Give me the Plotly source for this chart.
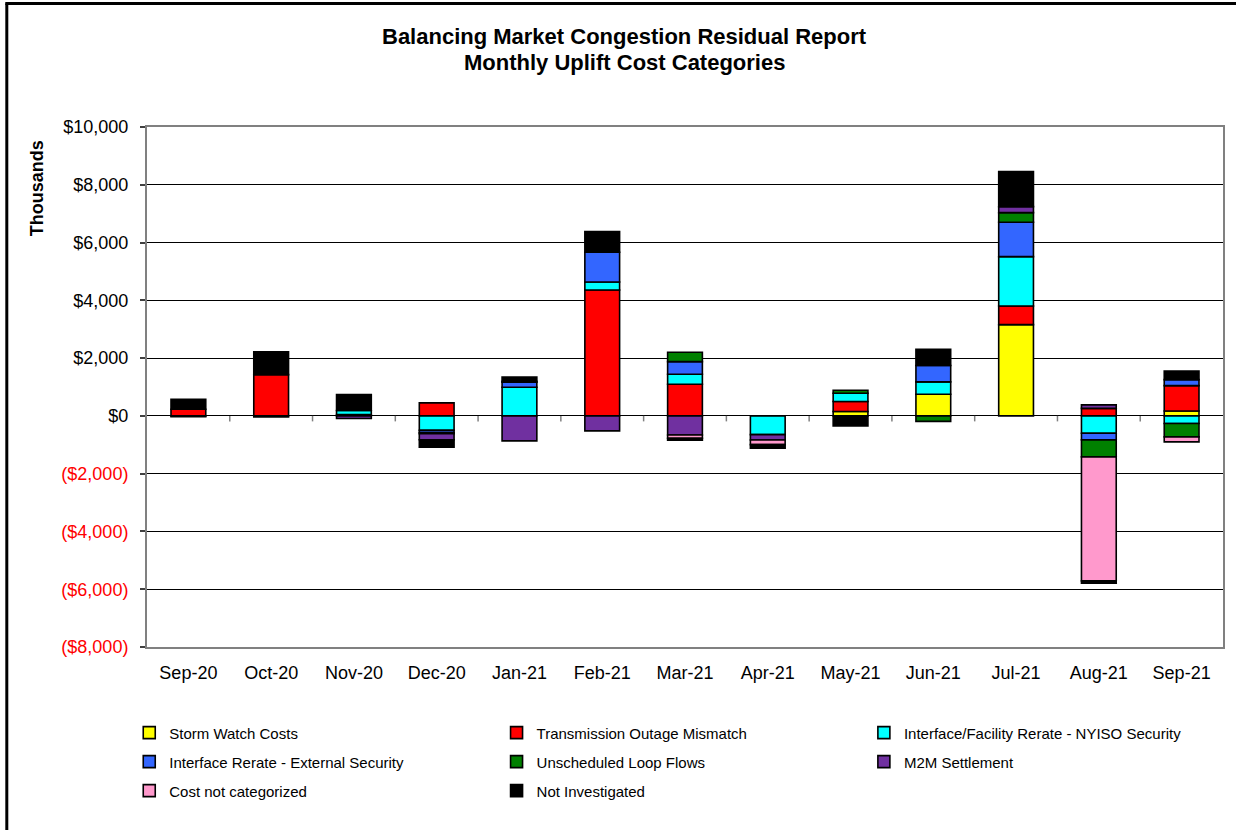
import plotly.graph_objects as go

# Monthly uplift cost categories, $ thousands
months = ["Sep-20", "Oct-20", "Nov-20", "Dec-20", "Jan-21", "Feb-21", "Mar-21",
          "Apr-21", "May-21", "Jun-21", "Jul-21", "Aug-21", "Sep-21"]

storm_watch = [None, None, None, None, None, None, None, None, 150, 750, 3160, None, 170]
transmission_outage = [230, 1430, 45, 450, None, 4360, 1096, None, 346, None, 646, 260, 877]
nyiso_security = [None, None, 140, -495, 990, 277, 346, -650, 288, 427, 1707, -600, -265]
external_security = [None, None, None, -80, 175, 1027, 438, None, None, 565, 1188, -230, 208]
loop_flows = [None, None, None, -40, 30, None, 323, None, 104, -190, 334, -590, -460]
m2m_settlement = [-30, -40, -90, -210, -865, -520, -660, -185, None, None, 208, 120, None]
not_categorized = [None, None, None, None, None, None, -115, -160, None, None, None, -4290, -175]
not_investigated = [340, 785, 550, -255, 150, 715, -70, -125, -346, 565, 1211, -80, 300]

# (name, values, colour, legend column)
series = [
    ("Storm Watch Costs", storm_watch, "#FFFF00", "legend"),
    ("Transmission Outage Mismatch", transmission_outage, "#FF0000", "legend2"),
    ("Interface/Facility Rerate - NYISO Security", nyiso_security, "#00FFFF", "legend3"),
    ("Interface Rerate - External Security", external_security, "#3366FF", "legend"),
    ("Unscheduled Loop Flows", loop_flows, "#008000", "legend2"),
    ("M2M Settlement", m2m_settlement, "#7030A0", "legend3"),
    ("Cost not categorized", not_categorized, "#FF99CC", "legend"),
    ("Not Investigated", not_investigated, "#000000", "legend2"),
]

y_tick_values = [-8000, -6000, -4000, -2000, 0, 2000, 4000, 6000, 8000, 10000]
y_tick_labels = ["($8,000)", "($6,000)", "($4,000)", "($2,000)", "$0",
                 "$2,000", "$4,000", "$6,000", "$8,000", "$10,000"]

FONT = "Liberation Sans, Arial, sans-serif"

fig = go.Figure()
for idx, (name, values, color, legend_id) in enumerate(series):
    fig.add_trace(go.Bar(
        x=list(range(len(months))), y=values, name=name,
        marker=dict(color=color, line=dict(color="#000000", width=1.6)),
        legend=legend_id, legendgroup=f"g{idx}",
    ))

# red text for negative amounts on the value axis
tick_text = [
    f'<span style="color:#FF0000">{lab}</span>' if v < 0 else lab
    for v, lab in zip(y_tick_values, y_tick_labels)
]

# short tick marks on the zero line between categories
shapes = []
for i in range(len(months) - 1):
    shapes.append(dict(type="line", xref="x", yref="y", x0=i + 0.5, x1=i + 0.5,
                       y0=0, y1=-190, line=dict(color="#808080", width=1.5)))
# outer chart frame
shapes.append(dict(type="line", xref="paper", yref="paper", x0=-0.1303, x1=-0.1303,
                   y0=-1.0, y1=1.2375, line=dict(color="#000000", width=3)))
shapes.append(dict(type="line", xref="paper", yref="paper", x0=-0.1317, x1=1.2,
                   y0=1.2375, y1=1.2375, line=dict(color="#000000", width=3)))

legend_common = dict(orientation="v", xanchor="left", yanchor="top",
                     tracegroupgap=6.5,
                     font=dict(family=FONT, size=15, color="#000000"),
                     bgcolor="rgba(0,0,0,0)", itemclick=False, itemdoubleclick=False)
legend_top = -0.1335
col_step = 368 / 1078

fig.update_layout(
    width=1236, height=830,
    margin=dict(l=147, r=11, t=127, b=183),
    paper_bgcolor="#FFFFFF", plot_bgcolor="#FFFFFF",
    barmode="relative", bargap=0.58,
    font=dict(family=FONT, size=18, color="#000000"),
    showlegend=True,
    legend=dict(legend_common, x=-0.0165, y=legend_top),
    legend2=dict(legend_common, x=-0.0165 + col_step, y=legend_top),
    legend3=dict(legend_common, x=-0.0165 + 2 * col_step, y=legend_top),
    xaxis=dict(
        range=[-0.5, len(months) - 0.5],
        tickmode="array", tickvals=list(range(len(months))), ticktext=months,
        ticks="", showgrid=False, zeroline=False,
        showline=True, mirror=True, linecolor="#808080", linewidth=2,
        tickfont=dict(family=FONT, size=18, color="#000000"),
        ticklabelstandoff=8,
    ),
    yaxis=dict(
        range=[-8000, 10000],
        tickmode="array", tickvals=y_tick_values, ticktext=tick_text,
        ticks="outside", ticklen=5, tickcolor="#404040", tickwidth=1.5,
        showgrid=True, gridcolor="#000000", gridwidth=1,
        zeroline=True, zerolinecolor="#000000", zerolinewidth=1.2,
        showline=True, mirror=True, linecolor="#808080", linewidth=2,
        tickfont=dict(family=FONT, size=18, color="#000000"),
        ticklabelstandoff=8,
    ),
    shapes=shapes,
    annotations=[
        dict(text="<b>Balancing Market Congestion Residual Report</b>",
             xref="paper", yref="paper", x=0.4434, y=1.1731,
             xanchor="center", yanchor="middle", showarrow=False,
             font=dict(family=FONT, size=22, color="#000000")),
        dict(text="<b>Monthly Uplift Cost Categories</b>",
             xref="paper", yref="paper", x=0.4434, y=1.125,
             xanchor="center", yanchor="middle", showarrow=False,
             font=dict(family=FONT, size=22, color="#000000")),
        dict(text="<b>Thousands</b>", textangle=-90,
             xref="paper", yref="paper", x=-0.102, y=0.8827,
             xanchor="center", yanchor="middle", showarrow=False,
             font=dict(family=FONT, size=18, color="#000000")),
    ],
)

fig.write_html("out.html")
